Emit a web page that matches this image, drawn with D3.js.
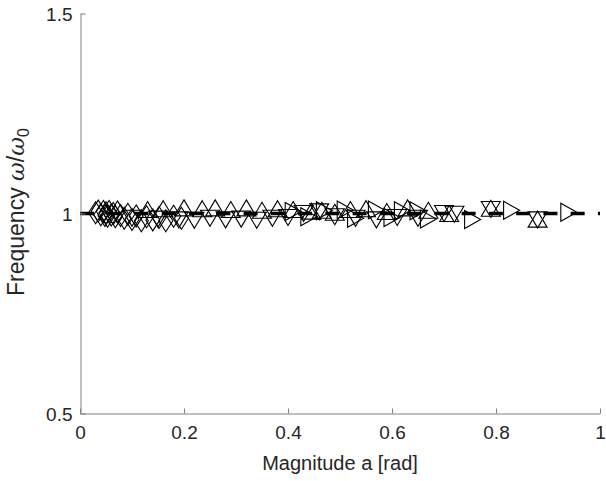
<!DOCTYPE html>
<html><head><meta charset="utf-8">
<script src="https://cdn.jsdelivr.net/npm/d3@7"></script>
<style>body{margin:0;background:#fff}svg{display:block}text{font-family:"Liberation Sans",Arial,sans-serif;fill:#262626}</style>
</head><body><svg id="c" width="606" height="481"></svg>
<script>
const xTicks=[0,0.2,0.4,0.6,0.8,1];
const xTickLabels=["0","0.2","0.4","0.6","0.8","1"];
const yTicks=[0.5,1,1.5];
const yTickLabels=["0.5","1","1.5"];
const refLine=[[0,1],[1,1]];
const diamondA=[0.03,0.035,0.04,0.045,0.048,0.05,0.053,0.056,0.06,0.064,0.068,0.072,0.078,0.085,0.092,0.1,0.108,0.118,0.128,0.14,0.152,0.165,0.18,0.195];
const diamondF=[1.002,1.006,0.997,1.005,0.995,1.002,0.993,1.005,0.996,1.0,0.992,1.004,0.995,0.988,0.998,0.985,0.994,0.982,0.992,0.984,0.99,0.982,0.993,0.988];
const upA=[0.13,0.16,0.2,0.235,0.26,0.29,0.32,0.35,0.38,0.41,0.445,0.465,0.49,0.52,0.55,0.59,0.63,0.67,0.71,0.79,0.88];
const upF=[1.01,1.012,1.014,1.012,1.014,1.01,1.014,1.008,1.012,1.01,1.006,1.008,1.003,1.01,1.012,1.005,1.014,1.008,1.0,1.013,0.986];
const downA=[0.1,0.15,0.19,0.22,0.25,0.28,0.31,0.34,0.37,0.4,0.43,0.46,0.49,0.53,0.57,0.61,0.65,0.7,0.72,0.79,0.88];
const downF=[0.988,0.986,0.984,0.983,0.988,0.984,0.986,0.983,0.988,0.99,1.0,1.004,0.992,0.988,0.984,0.99,0.988,1.0,0.998,1.01,0.984];
const rightA=[0.41,0.44,0.47,0.51,0.53,0.57,0.6,0.62,0.65,0.67,0.755,0.83,0.94];
const rightF=[1.005,0.992,1.007,1.009,0.988,1.009,0.99,1.007,1.007,0.986,0.985,1.008,1.003];

const svg=d3.select("#c");
const x=d3.scaleLinear().domain([0,1]).range([80,600]);
const y=d3.scaleLinear().domain([0.5,1.5]).range([413.5,13.5]);
const axisColor="#808080";

svg.append("path").datum(refLine)
 .attr("d",d3.line().x(d=>x(d[0])).y(d=>y(d[1])))
 .attr("stroke","#000").attr("stroke-width",3.5).attr("fill","none")
 .attr("stroke-dasharray","14,13.26");

const shapes={
 diamond:(w=7,h=11)=>`M0,${-h}L${w},0L0,${h}L${-w},0Z`,
 up:(w=9.5,h=8)=>`M0,${-h}L${w},${h}L${-w},${h}Z`,
 down:(w=9.5,h=8)=>`M0,${h}L${w},${-h}L${-w},${-h}Z`,
 right:(w=8,h=9)=>`M${w},0L${-w},${h}L${-w},${-h}Z`
};
function series(A,F,shape){
 svg.append("g").selectAll("path").data(A.map((a,i)=>[a,F[i]])).join("path")
  .attr("transform",d=>`translate(${x(d[0])},${y(d[1])})`)
  .attr("d",shapes[shape]()).attr("fill","none").attr("stroke","#000").attr("stroke-width",1.1);
}
series(diamondA,diamondF,"diamond");
series(upA,upF,"up");
series(downA,downF,"down");
series(rightA,rightF,"right");

const gx=svg.append("g").attr("transform","translate(0,413.5)")
 .call(d3.axisBottom(x).tickValues(xTicks).tickFormat((d,i)=>xTickLabels[i]).tickSizeInner(-5).tickSizeOuter(0).tickPadding(12));
const gy=svg.append("g").attr("transform","translate(80.5,0)")
 .call(d3.axisLeft(y).tickValues(yTicks).tickFormat((d,i)=>yTickLabels[i]).tickSizeInner(-5).tickSizeOuter(0).tickPadding(8));
[gx,gy].forEach(g=>{
 g.select(".domain").attr("stroke",axisColor);
 g.selectAll(".tick line").attr("stroke",axisColor);
 g.selectAll(".tick text").attr("fill","#262626").style("font-size","19px").style("font-family",'"Liberation Sans",Arial,sans-serif');
});
gy.selectAll(".tick text").attr("dy","0.35em");

svg.append("text").attr("x",340).attr("y",470).attr("text-anchor","middle").style("font-size","20px").text("Magnitude a [rad]");
const yl=svg.append("text").attr("transform","translate(24,296) rotate(-90)").attr("text-anchor","start").style("font-size","23px");
yl.append("tspan").text("Frequency ");
yl.append("tspan").style("font-family",'"DejaVu Serif",serif').style("font-style","italic").text("ω");
yl.append("tspan").text("/");
yl.append("tspan").style("font-family",'"DejaVu Serif",serif').style("font-style","italic").text("ω");
yl.append("tspan").attr("dy",5).style("font-size","16px").text("0");
</script></body></html>
